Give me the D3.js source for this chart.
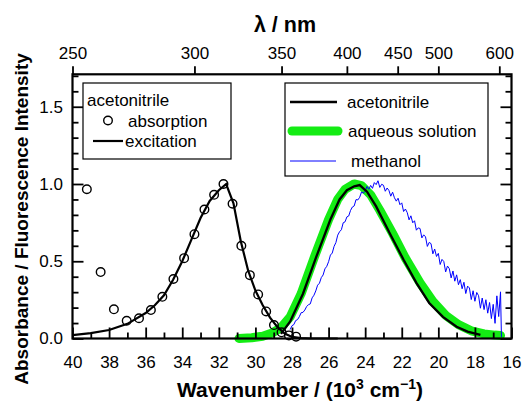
<!DOCTYPE html>
<html>
<head>
<meta charset="utf-8">
<script src="https://cdn.jsdelivr.net/npm/d3@7"></script>
<style>
  html, body { margin: 0; padding: 0; background: #fff; }
  svg { display: block; font-family: "Liberation Sans", Arial, sans-serif; }
</style>
</head>
<body>
<svg id="chart" width="525" height="403"></svg>
<script>
// ---- data (wavenumbers in 10^3 cm^-1) ----
// absorption in acetonitrile, sampled every 5 nm
const absWavelength = [255, 260, 265, 270, 275, 280, 285, 290, 295, 300, 305, 310, 315, 320,
                       325, 330, 335, 340, 345, 350, 355, 360];
const absValue = [0.966, 0.43, 0.189, 0.115, 0.131, 0.184, 0.27, 0.385, 0.52, 0.675, 0.835, 0.93,
                  1.0, 0.872, 0.60, 0.41, 0.285, 0.175, 0.087, 0.04, 0.02, 0.012];

// excitation spectrum in acetonitrile
const excWavenumber = [40, 39, 38, 37, 36, 35.5, 35, 34.5, 34, 33.5, 33, 32.5, 32, 31.6, 31.2,
                       30.8, 30.4, 30, 29.6, 29.2, 28.8, 28.4, 28, 27.5, 27, 26, 25.5];
const excValue = [0.022, 0.035, 0.055, 0.095, 0.165, 0.215, 0.28, 0.38, 0.50, 0.64, 0.78, 0.89,
                  0.96, 1.0, 0.875, 0.63, 0.44, 0.31, 0.215, 0.135, 0.075, 0.032, 0.01, 0.003,
                  0, 0, 0];

// fluorescence in acetonitrile
const flAcnWavenumber = [28.6, 28.1, 27.4, 26.7, 25.9, 25.4, 25.0, 24.6, 24.3, 23.9, 23.4, 22.65,
                         21.9, 21.2, 20.5, 19.75, 19.0, 18.4, 17.7];
const flAcnValue = [0.03, 0.11, 0.29, 0.52, 0.77, 0.90, 0.96, 0.985, 0.993, 0.95, 0.855, 0.68,
                    0.51, 0.36, 0.23, 0.14, 0.076, 0.045, 0.023];

// fluorescence in aqueous solution
const flAqWavenumber = [30.9, 30.2, 29.6, 29.1, 28.6, 28.1, 27.5, 26.8, 26.0, 25.5, 25.1, 24.6,
                        24.2, 23.7, 23.2, 22.5, 21.8, 21.0, 20.3, 19.6, 18.9, 18.2, 17.5, 16.9, 16.6];
const flAqValue = [0.0, 0.005, 0.015, 0.035, 0.07, 0.14, 0.29, 0.52, 0.77, 0.90, 0.965, 1.0,
                   0.99, 0.93, 0.83, 0.68, 0.52, 0.36, 0.24, 0.15, 0.09, 0.05, 0.03, 0.022, 0.02];

// fluorescence in methanol (raw, noisy emission trace)
const flMeOHWavenumber = [
  28.1, 28.0, 27.9, 27.8, 27.7, 27.6, 27.5, 27.4, 27.3, 27.2, 27.1, 27.0, 26.9, 26.8, 26.7, 26.6,
  26.5, 26.4, 26.3, 26.2, 26.1, 26.0, 25.9, 25.8, 25.7, 25.6, 25.5, 25.4, 25.3, 25.2, 25.1, 25.0,
  24.9, 24.8, 24.7, 24.6, 24.5, 24.4, 24.3, 24.2, 24.1, 24.0, 23.9, 23.8, 23.7, 23.6, 23.5, 23.4,
  23.3, 23.2, 23.1, 23.0, 22.9, 22.8, 22.7, 22.6, 22.5, 22.4, 22.3, 22.2, 22.1, 22.0, 21.9, 21.8,
  21.7, 21.6, 21.5, 21.4, 21.3, 21.2, 21.1, 21.0, 20.9, 20.8, 20.7, 20.6, 20.5, 20.4, 20.3, 20.2,
  20.1, 20.0, 19.9, 19.8, 19.7, 19.6, 19.5, 19.4, 19.3, 19.2, 19.1, 19.0, 18.9, 18.8, 18.7, 18.6,
  18.5, 18.4, 18.3, 18.2, 18.1, 18.0, 17.9, 17.8, 17.7, 17.6, 17.5, 17.4, 17.3, 17.2, 17.1, 17.0,
  16.9, 16.8, 16.7, 16.6, 16.55];
const flMeOHValue = [
  0.058, 0.083, 0.090, 0.116, 0.122, 0.141, 0.167, 0.169, 0.184, 0.207, 0.219, 0.224, 0.263, 0.280, 0.308, 0.345,
  0.358, 0.394, 0.411, 0.451, 0.467, 0.497, 0.540, 0.553, 0.596, 0.621, 0.669, 0.691, 0.704, 0.749, 0.755, 0.787,
  0.793, 0.829, 0.851, 0.858, 0.899, 0.897, 0.914, 0.948, 0.941, 0.953, 0.984, 0.966, 0.991, 0.972, 1.009, 0.996,
  1.021, 0.978, 0.998, 0.992, 0.953, 0.974, 0.958, 0.921, 0.947, 0.911, 0.889, 0.908, 0.866, 0.878, 0.822, 0.838,
  0.815, 0.768, 0.794, 0.749, 0.762, 0.701, 0.716, 0.712, 0.651, 0.671, 0.658, 0.596, 0.622, 0.614, 0.548, 0.579,
  0.531, 0.551, 0.479, 0.512, 0.498, 0.431, 0.469, 0.452, 0.392, 0.437, 0.371, 0.412, 0.348, 0.381, 0.322, 0.364,
  0.291, 0.339, 0.327, 0.252, 0.309, 0.241, 0.298, 0.277, 0.196, 0.262, 0.187, 0.251, 0.164, 0.233, 0.129, 0.221,
  0.098, 0.276, 0.142, 0.302, 0.010];

// axis ticks
const xMajorTicks = [40, 38, 36, 34, 32, 30, 28, 26, 24, 22, 20, 18, 16];
const xMinorTicks = [39, 37, 35, 33, 31, 29, 27, 25, 23, 21, 19, 17];
const yMajorTicks = [0, 0.5, 1.0, 1.5];
const yMinorTicks = [0.1, 0.2, 0.3, 0.4, 0.6, 0.7, 0.8, 0.9, 1.1, 1.2, 1.3, 1.4, 1.6, 1.7];
const nmTicks = [250, 300, 350, 400, 450, 500, 600];

// ---- layout ----
const svg = d3.select("#chart");
const plot = { left: 72.5, right: 511.5, top: 74.3, bottom: 338.5 };

const x = d3.scaleLinear().domain([40, 16]).range([plot.left, plot.right]);
const y = d3.scaleLinear().domain([0, 1.71]).range([plot.bottom, plot.top]);

const GREEN = "#14ec14";
const BLUE = "#0000ff";
const FONT = 17;

// ---- spectra ----
const line = d3.line().x(d => x(d[0])).y(d => y(d[1]));
const zip = (a, b) => a.map((v, i) => [v, b[i]]);

const g = svg.append("g");

g.append("path")
  .attr("d", line(zip(flAqWavenumber, flAqValue)))
  .attr("fill", "none").attr("stroke", GREEN).attr("stroke-width", 9)
  .attr("stroke-linecap", "round").attr("stroke-linejoin", "round");

g.append("path")
  .attr("d", line(zip(flMeOHWavenumber, flMeOHValue)))
  .attr("fill", "none").attr("stroke", BLUE).attr("stroke-width", 1);

g.append("path")
  .attr("d", line(zip(flAcnWavenumber, flAcnValue)))
  .attr("fill", "none").attr("stroke", "#000").attr("stroke-width", 2.3);

g.append("path")
  .attr("d", line(zip(excWavenumber, excValue)))
  .attr("fill", "none").attr("stroke", "#000").attr("stroke-width", 2.2);

g.selectAll("circle.abs")
  .data(zip(absWavelength.map(nm => 1e4 / nm), absValue))
  .join("circle")
  .attr("class", "abs")
  .attr("cx", d => x(d[0])).attr("cy", d => y(d[1]))
  .attr("r", 4.3)
  .attr("fill", "none").attr("stroke", "#000").attr("stroke-width", 1.4);

// ---- axes ----
function styleAxis(sel) {
  sel.select(".domain").remove();
  sel.selectAll(".tick line").attr("stroke", "#000").attr("stroke-width", 1.8);
  sel.selectAll("text").attr("fill", "#000").attr("font-size", FONT);
}

// bottom: inward ticks
svg.append("g").attr("transform", `translate(0,${plot.bottom})`)
  .call(d3.axisBottom(x).tickValues(xMajorTicks).tickSize(-11).tickPadding(17).tickFormat(d3.format("d")))
  .call(styleAxis);
svg.append("g").attr("transform", `translate(0,${plot.bottom})`)
  .call(d3.axisBottom(x).tickValues(xMinorTicks).tickSize(-6).tickFormat(""))
  .call(styleAxis);

// left: inward ticks
svg.append("g").attr("transform", `translate(${plot.left},0)`)
  .call(d3.axisLeft(y).tickValues(yMajorTicks).tickSize(-11).tickPadding(9.5).tickFormat(d3.format(".1f")))
  .call(styleAxis);
svg.append("g").attr("transform", `translate(${plot.left},0)`)
  .call(d3.axisLeft(y).tickValues(yMinorTicks).tickSize(-6).tickFormat(""))
  .call(styleAxis);

// right: mirrored inward ticks, no labels
svg.append("g").attr("transform", `translate(${plot.right},0)`)
  .call(d3.axisRight(y).tickValues(yMajorTicks).tickSize(-11).tickFormat(""))
  .call(styleAxis);
svg.append("g").attr("transform", `translate(${plot.right},0)`)
  .call(d3.axisRight(y).tickValues(yMinorTicks).tickSize(-6).tickFormat(""))
  .call(styleAxis);

// top: wavelength axis, outward ticks at 10^4/λ
svg.append("g").attr("transform", `translate(0,${plot.top})`)
  .call(d3.axisTop(x).tickValues(nmTicks.map(nm => 1e4 / nm)).tickSize(8).tickPadding(7)
    .tickFormat(v => d3.format("d")(Math.round(1e4 / v))))
  .call(styleAxis);

// frame
svg.append("rect")
  .attr("x", plot.left).attr("y", plot.top)
  .attr("width", plot.right - plot.left).attr("height", plot.bottom - plot.top)
  .attr("fill", "none").attr("stroke", "#000").attr("stroke-width", 2.2);

// ---- axis titles ----
svg.append("text")
  .attr("x", 285).attr("y", 32)
  .attr("text-anchor", "middle").attr("font-size", 21.5).attr("font-weight", "bold")
  .text("λ / nm");

const xt = svg.append("text")
  .attr("x", 300).attr("y", 397)
  .attr("text-anchor", "middle").attr("font-size", 21).attr("font-weight", "bold");
xt.append("tspan").text("Wavenumber / (10");
xt.append("tspan").attr("dy", -8).attr("font-size", 14).text("3");
xt.append("tspan").attr("dy", 8).text(" cm");
xt.append("tspan").attr("dy", -8).attr("font-size", 14).text("−1");
xt.append("tspan").attr("dy", 8).text(")");

svg.append("text")
  .attr("transform", "translate(28,219) rotate(-90)")
  .attr("text-anchor", "middle").attr("font-size", 19).attr("font-weight", "bold")
  .text("Absorbance / Fluorescence Intensity");

// ---- legend: acetonitrile absorption / excitation ----
const leg1 = svg.append("g");
leg1.append("rect").attr("x", 83).attr("y", 83).attr("width", 148).attr("height", 76)
  .attr("fill", "#fff").attr("stroke", "#000").attr("stroke-width", 1.2);
leg1.append("text").attr("x", 87).attr("y", 106).attr("font-size", FONT).text("acetonitrile");
leg1.append("circle").attr("cx", 108).attr("cy", 120.5).attr("r", 4.3)
  .attr("fill", "none").attr("stroke", "#000").attr("stroke-width", 1.4);
leg1.append("text").attr("x", 128).attr("y", 126.5).attr("font-size", FONT).text("absorption");
leg1.append("line").attr("x1", 93).attr("x2", 123).attr("y1", 141).attr("y2", 141)
  .attr("stroke", "#000").attr("stroke-width", 2.2);
leg1.append("text").attr("x", 125).attr("y", 146.5).attr("font-size", FONT).text("excitation");

// ---- legend: fluorescence ----
const leg2 = svg.append("g");
leg2.append("rect").attr("x", 285).attr("y", 83).attr("width", 203).attr("height", 93)
  .attr("fill", "#fff").attr("stroke", "#000").attr("stroke-width", 1.2);
leg2.append("line").attr("x1", 290).attr("x2", 337).attr("y1", 102).attr("y2", 102)
  .attr("stroke", "#000").attr("stroke-width", 2.3);
leg2.append("text").attr("x", 347).attr("y", 107.5).attr("font-size", FONT).text("acetonitrile");
leg2.append("line").attr("x1", 292).attr("x2", 338).attr("y1", 131).attr("y2", 131)
  .attr("stroke", GREEN).attr("stroke-width", 9).attr("stroke-linecap", "round");
leg2.append("text").attr("x", 348).attr("y", 137).attr("font-size", FONT).text("aqueous solution");
leg2.append("line").attr("x1", 290).attr("x2", 336).attr("y1", 161).attr("y2", 161)
  .attr("stroke", BLUE).attr("stroke-width", 1);
leg2.append("text").attr("x", 351).attr("y", 166.5).attr("font-size", FONT).text("methanol");
</script>
</body>
</html>
